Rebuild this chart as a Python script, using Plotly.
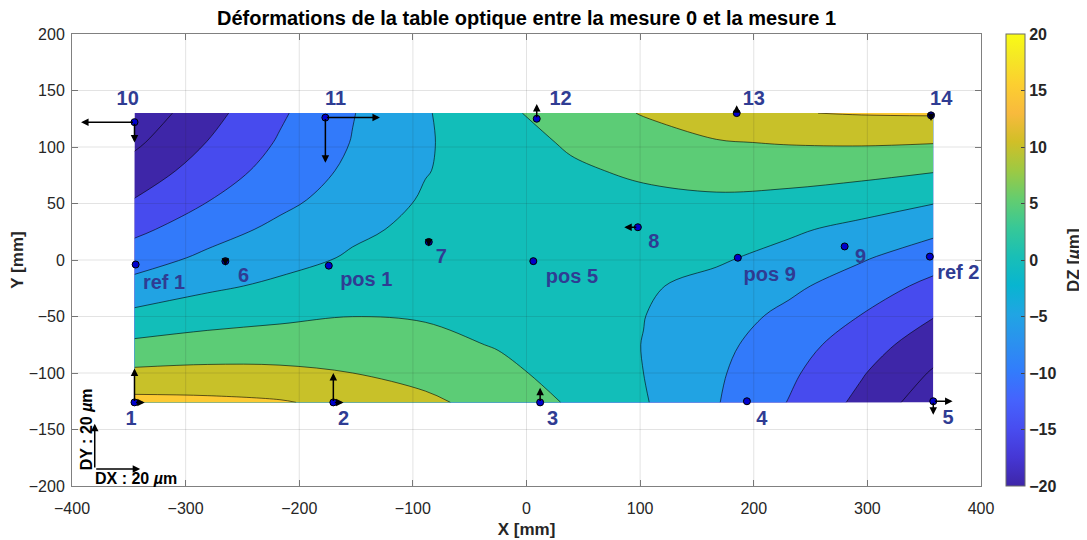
import plotly.graph_objects as go

# grid of the interpolated DZ field (um)
x_grid = [-345, -281, -217, -153, -89, -25, 39, 103, 167, 231, 295, 358]
y_grid = [-126, -100, -75, -49, -23, 2, 27, 53, 79, 104, 130]

dz_ym126 = [16.5, 16.1, 15.4, 13.6, 11.0, 8.1, 4.5, 0.4, -4.7, -10.2, -16.3, -23.0]
dz_ym100 = [11.0, 11.3, 11.0, 10.0, 8.4, 6.2, 3.3, 0.0, -4.3, -9.1, -14.6, -20.5]
dz_ym75 = [6.0, 7.0, 7.4, 7.2, 6.3, 4.7, 2.5, -0.1, -3.7, -7.8, -12.6, -17.8]
dz_ym49 = [1.2, 2.9, 4.0, 4.9, 4.6, 3.5, 2.0, 0.1, -2.8, -6.1, -10.1, -14.7]
dz_ym23 = [-3.4, -0.9, 0.9, 2.1, 2.7, 2.6, 1.9, 0.5, -1.2, -4.0, -7.4, -11.3]
dz_y2 = [-7.3, -4.1, -1.7, 0.5, 1.4, 2.0, 2.0, 1.4, 0.6, -1.4, -4.5, -7.7]
dz_y27 = [-11.2, -7.0, -3.9, -0.8, 1.0, 1.7, 2.4, 2.5, 2.0, 0.7, -1.3, -3.8]
dz_y53 = [-14.8, -10.2, -6.2, -2.9, 0.5, 1.8, 3.2, 3.9, 4.4, 3.8, 2.4, 0.6]
dz_y79 = [-18.0, -12.7, -8.1, -4.0, -0.2, 2.2, 4.3, 5.8, 6.6, 6.8, 6.4, 5.3]
dz_y104 = [-20.9, -14.9, -9.5, -4.8, -0.45, 2.8, 5.6, 7.8, 9.7, 10.3, 10.5, 10.2]
dz_y130 = [-23.5, -16.8, -10.7, -5.2, -0.4, 3.8, 7.4, 10.3, 12.5, 14.8, 15.3, 15.5]

dz = [dz_ym126, dz_ym100, dz_ym75, dz_ym49, dz_ym23, dz_y2,
      dz_y27, dz_y53, dz_y79, dz_y104, dz_y130]

# measurement points
names = ["1", "2", "3", "4", "5", "6", "7", "8", "9", "10", "11", "12", "13", "14",
         "ref 1", "pos 1", "pos 5", "pos 9", "ref 2"]
pt_x = [-345, -170, 12, 194, 358, -265, -86, 98, 280, -345, -177, 9, 185, 356,
        -344, -174, 6, 186, 355]
pt_y = [-126, -126, -126, -125, -125, -1, 16, 29, 12, 122, 126, 125, 130, 128,
        -4, -5, -1, 2, 3]
# displacements in the plane (um)
dx_um = [4.5, 4.5, 0.5, 0, 8.5, 0.5, 0.5, -6, 0, -23.5, 24, 1, -1.5, 0,
         0, 0, 0, -1.5, -1.5]
dy_um = [15, 13, 6.5, 1.5, -6, -2, -2, 0, 1.5, -9, -20, 6.5, 3.5, -2.5,
         1.5, 1.5, 1, 0, 1]
label_x = [-348, -161, 23, 207, 371, -249, -75, 112, 294, -351, -168, 30, 200, 365,
           -319, -141, 40, 214, 380]
label_y = [-142, -142, -142, -142, -141, -15, 2, 15, 1.5, 142, 142, 142, 142, 142,
           -21, -19, -16, -14, -12]

x_ticks = [-400, -300, -200, -100, 0, 100, 200, 300, 400]
y_ticks = [-200, -150, -100, -50, 0, 50, 100, 150, 200]
cb_ticks = [-20, -15, -10, -5, 0, 5, 10, 15, 20]

QSCALE = 2.0          # mm drawn per um
REF_UM = 20           # length of the scale arrows
ref_x0, ref_y0 = -380, -185

# parula
parula = [
    [0.0, "#3E26A8"], [0.0635, "#4537D5"], [0.127, "#484DF0"], [0.1905, "#4563FD"],
    [0.254, "#327CFC"], [0.3175, "#2B91EF"], [0.381, "#20A5E3"], [0.4444, "#08B5D0"],
    [0.508, "#19BFB6"], [0.5714, "#37C897"], [0.635, "#64CD6F"], [0.698, "#9DC943"],
    [0.762, "#D1BF27"], [0.825, "#F8BA3D"], [0.889, "#FCCF30"], [0.952, "#F5E924"],
    [1.0, "#F9FB15"],
]
# band colours (MATLAB contourf: each band takes the colour of its lower level)
band_cols = ["#3E26A8", "#3E26A8", "#474BEE", "#327AFA", "#21A3E3",
             "#12BEB9", "#5CCC76", "#C8C129", "#FDCA33", "#F9FB15"]
band_scale = [[k / 9, c] for k, c in enumerate(band_cols)]

FONT = "Liberation Sans, Arial, Helvetica, sans-serif"
LABEL_COL = "#2F3C93"

# the page body adds 8 px around the figure
W, H = 1079, 532

fig = go.Figure()

fig.add_trace(go.Contour(
    x=x_grid, y=y_grid, z=dz,
    autocontour=False,
    contours=dict(start=-20, end=20, size=5, coloring="fill", showlines=True),
    line=dict(color="black", width=0.6, smoothing=1),
    colorscale=band_scale, showscale=False, hoverinfo="skip",
))

# only there to carry the continuous colour bar
fig.add_trace(go.Heatmap(
    x=[1000, 1001], y=[1000, 1001], z=[[-20, 20], [20, -20]],
    zmin=-20, zmax=20, colorscale=parula, hoverinfo="skip",
    colorbar=dict(
        x=1.0275, xanchor="left", y=0.5, yanchor="middle", len=1,
        xpad=0, ypad=0,
        thickness=19, outlinewidth=1, outlinecolor="#6b6b6b",
        ticks="inside", ticklen=4, tickcolor="#444",
        tickvals=cb_ticks,
        tickfont=dict(size=16, color="#262626", weight="bold"),
    ),
))

fig.add_trace(go.Scatter(
    x=pt_x, y=pt_y, mode="markers", hoverinfo="skip",
    marker=dict(size=7, color="#0000CD", line=dict(color="black", width=1)),
))

fig.add_trace(go.Scatter(
    x=label_x, y=label_y, mode="text", text=names, hoverinfo="skip",
    textposition="middle center",
    textfont=dict(size=20, color=LABEL_COL, family=FONT, weight="bold"),
))

# quiver arrows, X and Y components drawn separately
arrows = []
def arrow(x0, y0, x1, y1, w=1.5):
    arrows.append(dict(
        x=x1, y=y1, ax=x0, ay=y0, xref="x", yref="y", axref="x", ayref="y",
        text="", showarrow=True, arrowhead=2, arrowsize=1, arrowwidth=w,
        arrowcolor="black", standoff=0, startstandoff=0,
    ))

for px, py, du, dv in zip(pt_x, pt_y, dx_um, dy_um):
    if abs(du) > 0.2:
        arrow(px, py, px + du * QSCALE, py)
    if abs(dv) > 0.2:
        arrow(px, py, px, py + dv * QSCALE)

# scale arrows
arrow(ref_x0, ref_y0, ref_x0 + REF_UM * QSCALE, ref_y0)
arrow(ref_x0, ref_y0, ref_x0, ref_y0 + REF_UM * QSCALE)

arrows.append(dict(
    x=-344, y=-193.5, xref="x", yref="y", showarrow=False,
    text="<b>DX : 20 <i>µ</i>m</b>", font=dict(size=16, color="black"),
    xanchor="center", yanchor="middle",
))
arrows.append(dict(
    x=-387, y=-150, xref="x", yref="y", showarrow=False, textangle=-90,
    text="<b>DY : 20 <i>µ</i>m</b>", font=dict(size=16, color="black"),
    xanchor="center", yanchor="middle",
))
# colour bar title
arrows.append(dict(
    x=1.1012, y=0.5, xref="paper", yref="paper", showarrow=False, textangle=-90,
    text="<b>DZ [<i>µ</i>m]</b>", font=dict(size=17, color="#262626"),
    xanchor="center", yanchor="middle",
))

# MATLAB draws its grid on top of the filled contours
grid_col = "rgba(38,38,38,0.13)"
shapes = []
for t in x_ticks[1:-1]:
    shapes.append(dict(type="line", xref="x", yref="y", x0=t, x1=t, y0=-200, y1=200,
                       line=dict(color=grid_col, width=1), layer="above"))
for t in y_ticks[1:-1]:
    shapes.append(dict(type="line", xref="x", yref="y", x0=-400, x1=400, y0=t, y1=t,
                       line=dict(color=grid_col, width=1), layer="above"))

axis_style = dict(
    showline=True, linecolor="#808080", linewidth=1, mirror="ticks",
    ticks="inside", ticklen=6, tickcolor="#808080",
    showgrid=False, zeroline=False, automargin=False,
    tickfont=dict(size=16, color="#262626"),
)

fig.update_layout(
    width=W, height=H,
    margin=dict(l=64, r=106, t=26, b=54, autoexpand=False),
    paper_bgcolor="white", plot_bgcolor="white",
    font=dict(family=FONT, size=16, color="#262626"),
    showlegend=False,
    title=dict(
        text="<b>Déformations de la table optique entre la mesure 0 et la mesure 1</b>",
        x=0.5, xref="paper", xanchor="center",
        y=1 - 10 / H, yref="container", yanchor="middle",
        font=dict(size=20, color="black"),
    ),
    xaxis=dict(range=[-400, 400], tickvals=x_ticks, ticklabelstandoff=8,
               title=dict(text="<b>X [mm]</b>", standoff=6,
                          font=dict(size=17, color="#262626")),
               **axis_style),
    yaxis=dict(range=[-200, 200], tickvals=y_ticks, ticklabelstandoff=3,
               title=dict(text="<b>Y [mm]</b>", standoff=8,
                          font=dict(size=17, color="#262626")),
               **axis_style),
    annotations=arrows,
    shapes=shapes,
)

fig.write_html("out.html")
